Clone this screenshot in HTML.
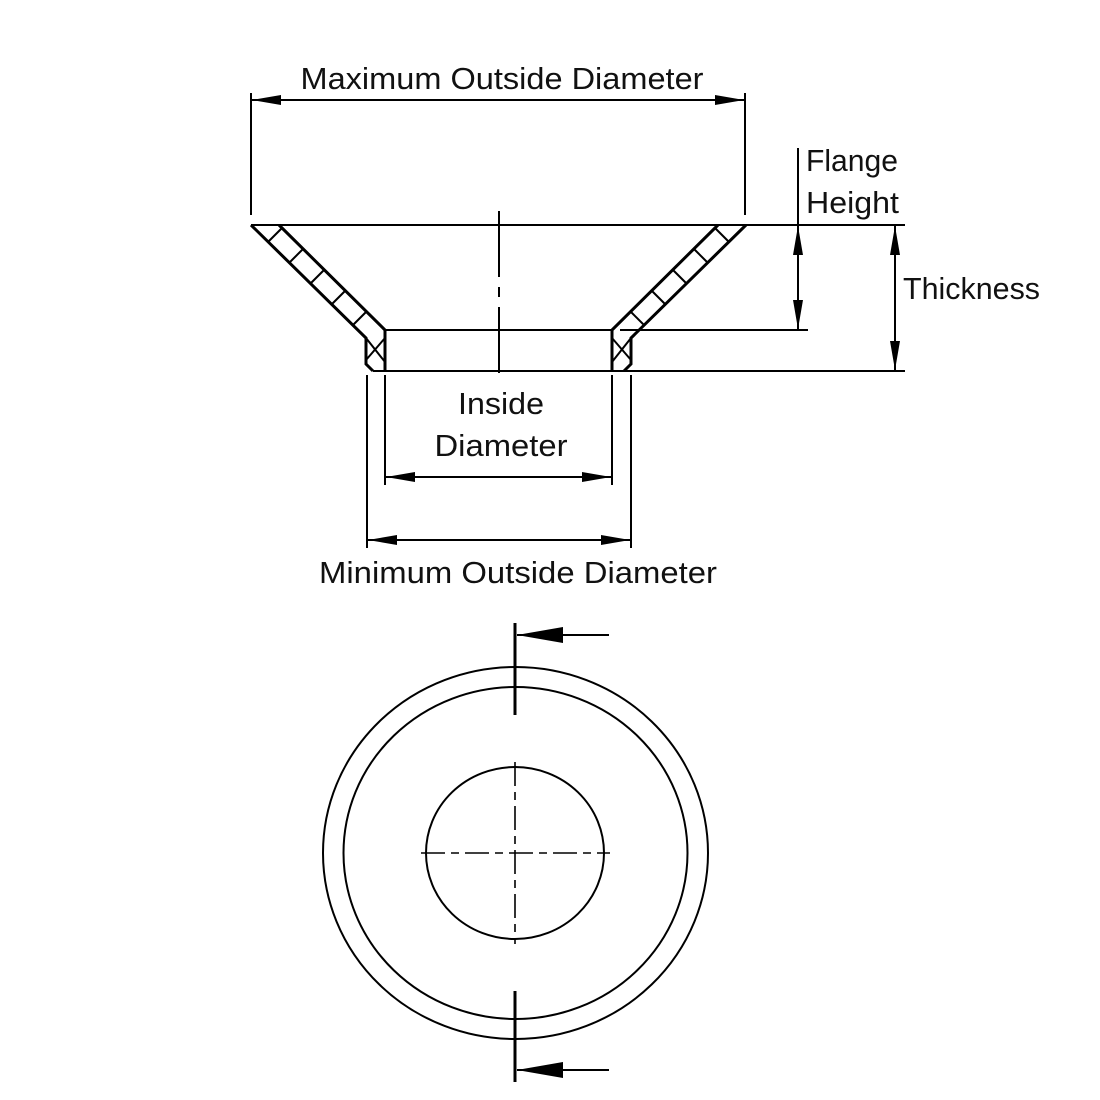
<!DOCTYPE html>
<html><head><style>body{margin:0;background:#fff}svg{display:block}text{font-family:"Liberation Sans",sans-serif;font-size:31px;fill:#111}</style></head>
<body><svg width="1100" height="1100" viewBox="0 0 1100 1100" xmlns="http://www.w3.org/2000/svg">
<g stroke="#000" stroke-width="2" fill="none">
<line x1="251" y1="225" x2="905" y2="225"/>
<line x1="373" y1="371" x2="905" y2="371"/>
<line x1="385" y1="330" x2="612" y2="330"/>
<line x1="620" y1="330" x2="808" y2="330"/>
<g stroke-width="3">
<path d="M251,225L366,338L366,364L373,371"/>
<path d="M279,225L385,330L385,371"/>
<path d="M746,225L631,338L631,364L624,371"/>
<path d="M718,225L612,330L612,371"/>
</g>
<g stroke-width="2">
<line x1="268" y1="242" x2="282" y2="228"/>
<line x1="289" y1="263" x2="303" y2="249"/>
<line x1="310" y1="284" x2="324" y2="270"/>
<line x1="331" y1="305" x2="345" y2="291"/>
<line x1="352" y1="326" x2="366" y2="312"/>
<line x1="729" y1="242" x2="715" y2="228"/>
<line x1="708" y1="263" x2="694" y2="249"/>
<line x1="687" y1="284" x2="673" y2="270"/>
<line x1="666" y1="305" x2="652" y2="291"/>
<line x1="645" y1="326" x2="631" y2="312"/>
<line x1="366" y1="338" x2="385" y2="362"/>
<line x1="366" y1="360" x2="385" y2="338"/>
<line x1="631" y1="338" x2="612" y2="362"/>
<line x1="631" y1="360" x2="612" y2="338"/>
</g>
<line x1="499" y1="211" x2="499" y2="380" stroke-dasharray="66,10,10,10"/>
<line x1="251" y1="93" x2="251" y2="215"/><line x1="745" y1="93" x2="745" y2="215"/>
<line x1="251" y1="100" x2="745" y2="100"/>
<line x1="798" y1="148" x2="798" y2="330"/>
<line x1="895" y1="225" x2="895" y2="371"/>
<line x1="385" y1="375" x2="385" y2="485"/><line x1="612" y1="375" x2="612" y2="485"/>
<line x1="385" y1="477" x2="612" y2="477"/>
<line x1="367" y1="375" x2="367" y2="548"/><line x1="631" y1="375" x2="631" y2="548"/>
<line x1="367" y1="540" x2="631" y2="540"/>
<ellipse cx="515.5" cy="853" rx="192.5" ry="186"/>
<ellipse cx="515.5" cy="853" rx="172" ry="166"/>
<ellipse cx="515" cy="853" rx="89" ry="86"/>
<line x1="515" y1="762" x2="515" y2="944" stroke-dasharray="24,6,8,6" stroke-width="1.6"/>
<line x1="421" y1="853" x2="610" y2="853" stroke-dasharray="24,6,8,6" stroke-width="1.6"/>
<line x1="515" y1="623" x2="515" y2="715" stroke-width="3"/>
<line x1="609" y1="635" x2="517" y2="635"/>
<line x1="515" y1="991" x2="515" y2="1082" stroke-width="3"/>
<line x1="609" y1="1070" x2="517" y2="1070"/>
</g>
<g fill="#000">
<path d="M252,100L281,95L281,105z"/><path d="M744,100L715,95L715,105z"/>
<path d="M798,226L793,255L803,255z"/><path d="M798,329L793,300L803,300z"/>
<path d="M895,226L890,255L900,255z"/><path d="M895,370L890,341L900,341z"/>
<path d="M386,477L415,472L415,482z"/><path d="M611,477L582,472L582,482z"/>
<path d="M368,540L397,535L397,545z"/><path d="M630,540L601,535L601,545z"/>
<path d="M517,635L563,627L563,643z"/><path d="M517,1070L563,1062L563,1078z"/>
</g>
<text x="502" y="89" text-anchor="middle" textLength="403" lengthAdjust="spacingAndGlyphs">Maximum Outside Diameter</text>
<text x="806" y="171" textLength="92" lengthAdjust="spacingAndGlyphs">Flange</text>
<text x="806" y="213" textLength="93" lengthAdjust="spacingAndGlyphs">Height</text>
<text x="903" y="299" textLength="137" lengthAdjust="spacingAndGlyphs">Thickness</text>
<text x="501" y="414" text-anchor="middle" textLength="86" lengthAdjust="spacingAndGlyphs">Inside</text>
<text x="501" y="456" text-anchor="middle" textLength="133" lengthAdjust="spacingAndGlyphs">Diameter</text>
<text x="518" y="583" text-anchor="middle" textLength="398" lengthAdjust="spacingAndGlyphs">Minimum Outside Diameter</text>
</svg></body></html>
